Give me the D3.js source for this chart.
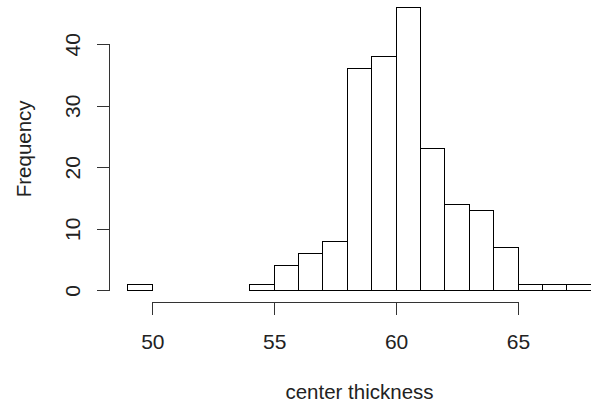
<!DOCTYPE html>
<html>
<head>
<meta charset="utf-8">
<script src="https://cdn.jsdelivr.net/npm/d3@7"></script>
<style>
  html, body { margin: 0; padding: 0; background: #fff; }
  svg { display: block; }
  text { font-family: "Liberation Sans", Arial, sans-serif; fill: #222; }
</style>
</head>
<body>
<svg id="chart" width="591" height="409"></svg>
<script>
// Histogram of center thickness, unit-width bins from 49 to 68
const binStarts = [49, 50, 51, 52, 53, 54, 55, 56, 57, 58, 59, 60, 61, 62, 63, 64, 65, 66, 67];
const counts    = [ 1,  0,  0,  0,  0,  1,  4,  6,  8, 36, 38, 46, 23, 14, 13,  7,  1,  1,  1];
const binWidth = 1;
const xTicks = [50, 55, 60, 65];
const yTicks = [0, 10, 20, 30, 40];
const xLabel = "center thickness";
const yLabel = "Frequency";

const svg = d3.select("#chart");

const x = d3.scaleLinear().domain([50, 65]).range([152.3, 518]);
const y = d3.scaleLinear().domain([0, 40]).range([290.3, 44.3]);

const bins = binStarts.map((s, i) => ({ x0: s, x1: s + binWidth, n: counts[i] }));

// bars
svg.append("g")
  .selectAll("rect")
  .data(bins)
  .join("rect")
  .attr("x", d => x(d.x0))
  .attr("y", d => y(d.n))
  .attr("width", d => x(d.x1) - x(d.x0))
  .attr("height", d => y(0) - y(d.n))
  .attr("fill", "#fff")
  .attr("stroke", "#000")
  .attr("stroke-width", 1)
  .attr("shape-rendering", "crispEdges");

// x axis, offset below the bars
const xAxis = svg.append("g")
  .attr("transform", `translate(0,302.7)`)
  .call(d3.axisBottom(x).tickValues(xTicks).tickSize(12).tickPadding(19.4).tickFormat(d3.format("d")));
xAxis.selectAll("path, line").attr("stroke", "#333").attr("shape-rendering", "crispEdges");
xAxis.select(".domain").attr("d", `M${x(50)},12V0H${x(65)}V12`);
xAxis.selectAll("text")
  .attr("font-size", 21)
  .attr("font-family", "Liberation Sans, Arial, sans-serif")
  .attr("fill", "#222");

// y axis with rotated labels
const yAxis = svg.append("g")
  .attr("transform", `translate(109.3,0)`)
  .call(d3.axisLeft(y).tickValues(yTicks).tickSize(12).tickFormat(d3.format("d")));
yAxis.selectAll("path, line").attr("stroke", "#333").attr("shape-rendering", "crispEdges");
yAxis.select(".domain").attr("d", `M-12,${y(0)}H0V${y(40)}H-12`);
yAxis.selectAll("text")
  .attr("transform", "rotate(-90)")
  .attr("x", 0)
  .attr("y", -29.3)
  .attr("dy", 0)
  .attr("text-anchor", "middle")
  .attr("font-size", 21)
  .attr("font-family", "Liberation Sans, Arial, sans-serif")
  .attr("fill", "#222");

// axis titles
svg.append("text")
  .attr("x", x(58.5))
  .attr("y", 399)
  .attr("text-anchor", "middle")
  .attr("font-size", 20.5)
  .text(xLabel);

svg.append("text")
  .attr("transform", `translate(31,${y(23)}) rotate(-90)`)
  .attr("text-anchor", "middle")
  .attr("font-size", 20.5)
  .text(yLabel);
</script>
</body>
</html>
